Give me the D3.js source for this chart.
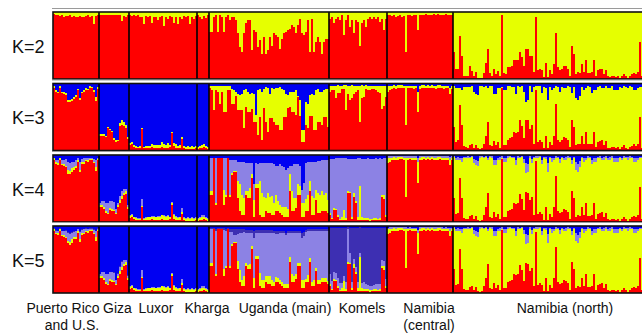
<!DOCTYPE html>
<html>
<head>
<meta charset="utf-8">
<script src="https://cdn.jsdelivr.net/npm/d3@7"></script>
<style>
  body { margin: 0; background: #fff; }
  svg { display: block; font-family: Arial, "Liberation Sans", sans-serif; }
</style>
</head>
<body>
<div id="chart"></div>
<script>
// populations, in plot order
const popLabels = [["Puerto Rico", "and U.S."], ["Giza"], ["Luxor"], ["Kharga"],
                   ["Uganda (main)"], ["Komels"], ["Namibia", "(central)"], ["Namibia (north)"]];
const popSizes = [23, 15, 34, 6, 60, 29, 33, 96];
const kValues = [2, 3, 4, 5];

// membership (%) per individual; yellow is whatever is left over
const k2Red = [
  97,96,95,94,95,93,94,94,95,93, 94,92,93,94,92,93,94,95,93,94, 82,94,95,
  96,96,95,96,95,96,95,95,96,95, 95,87,94,93,95,
  95,94,95,94,95,93,92,82,94,93, 94,83,93,92,88,93,94,79,92,89, 94,93,83,92,82,93,90,94,93,94, 82,93,90,94,
  95,92,90,94,91,96,
  70,70,93,95,70,95,93,70,93,95, 88,93,93,88,68,48,40,68,83,88, 88,43,73,70,48,58,38,63,38,43,
  63,50,68,65,63,45,60,68,70,73, 75,80,78,68,80,90,68,65,70,88, 40,90,40,55,63,55,38,55,60,60,
  90,93,83,90,93,88,95,65,88,95, 78,88,68,88,85,50,83,88,78,90, 93,90,93,90,93,85,90,73,90,
  95,96,94,95,92,94,95,93,94,40, 95,96,94,95,96,73,95,96,96,97, 96,95,96,97,96,97,96,95,96,97, 96,95,96,
  40,15,15,64,35,5,4,4,19,12, 4,11,2,1,2,9,24,45,9,5, 15,8,12,4,95,9,8,18,18,19,
  28,28,28,40,33,19,45,45,35,35, 10,93,13,15,13,3,24,3,13,8, 23,68,18,13,15,20,19,15,5,50,
  38,8,10,9,23,10,29,9,9,10, 29,5,13,15,15,8,14,4,3,5, 5,3,5,2,5,8,4,2,5,7, 9,7,10,55,4,6
];

const k3Red = [
  94,88,86,93,86,85,83,72,72,74, 77,80,90,75,86,88,91,90,93,93, 88,74,92,
  22,22,22,20,33,30,27,16,13,14, 36,38,37,33,17,
  8,9,5,4,3,4,32,3,3,4, 3,5,3,4,3,4,5,4,3,4, 5,26,6,4,3,4,17,3,2,2, 2,2,2,3,
  2,3,3,5,3,2,
  93,90,61,90,88,70,87,58,58,90, 90,70,70,82,60,60,60,33,65,58, 58,62,43,43,23,50,16,63,43,28,
  48,48,43,38,38,31,31,50,50,63, 65,58,58,53,80,52,12,12,38,33, 52,52,30,30,43,43,38,50,50,35,
  88,90,90,78,86,86,92,92,60,85, 75,78,85,88,90,43,78,80,92,90, 90,92,92,90,88,86,62,66,80,
  88,90,92,93,92,93,94,94,93,38, 93,94,93,92,93,58,92,93,94,93, 94,93,94,93,92,93,94,93,92,93, 93,85,92,
  35,12,15,68,38,6,5,4,8,10, 4,8,3,2,3,10,22,43,8,6, 14,8,12,4,93,8,8,16,18,20,
  28,26,28,45,36,18,45,45,32,38, 10,90,12,15,12,3,22,3,12,8, 22,70,16,13,15,20,18,15,5,45,
  35,8,10,9,22,10,28,9,9,10, 28,5,12,14,15,8,14,4,3,5, 5,3,5,2,5,8,4,2,5,7, 9,7,10,50,4,6
];
const k3Blue = [
  4,10,12,4,12,13,14,24,25,23, 20,17,8,22,12,10,6,8,4,5, 9,20,5,
  76,75,76,78,65,68,71,82,85,84, 59,55,57,62,80,
  89,88,92,93,95,94,66,95,94,93, 93,91,92,92,92,92,88,90,92,89, 92,72,89,91,94,92,80,94,95,94, 95,94,95,94,
  95,94,92,91,94,95,
  3,3,3,4,4,3,3,3,4,3, 3,8,10,12,15,17,15,10,8,12, 15,14,15,47,10,8,12,8,5,6,
  15,6,8,6,6,5,8,10,16,17, 12,13,12,10,18,25,70,70,28,30, 17,15,17,10,8,12,12,10,8,8,
  3,3,4,3,2,3,3,2,2,3, 3,2,3,3,3,3,2,3,2,4, 3,3,3,4,3,3,3,3,3,
  4,3,3,2,3,2,2,2,3,3, 3,3,3,3,3,12,3,2,2,3, 2,3,2,3,3,2,2,3,3,3, 3,6,3,
  3,7,7,7,10,5,5,5,5,3, 12,15,17,4,3,5,3,7,3,4, 15,15,7,7,5,10,10,4,3,5,
  5,15,4,5,3,12,27,25,4,12, 5,4,4,3,14,5,6,25,5,10, 7,4,5,12,5,7,7,4,5,14,
  5,22,25,18,5,10,7,4,5,14, 10,10,5,4,7,7,4,7,7,4, 10,10,10,5,7,4,5,7,4,5, 10,10,7,5,5,5
];

const k4Red = [
  93,87,85,92,85,84,82,72,72,74, 78,80,90,74,86,87,91,89,92,92, 88,76,92,
  22,23,20,14,12,18,17,16,12,22, 28,35,40,42,20,
  6,7,4,3,3,3,22,3,3,3, 3,4,3,3,3,3,4,3,3,3, 4,26,5,3,3,3,12,3,2,2, 2,2,2,3,
  2,3,3,4,3,2,
  41,41,95,26,95,95,95,26,38,95, 38,70,74,74,36,16,11,11,41,36, 36,66,8,51,51,11,8,8,16,13,
  13,11,11,16,16,13,11,8,8,8, 46,16,16,21,41,41,8,8,16,16, 46,11,11,33,13,13,16,16,16,13,
  10,4,18,18,8,3,3,3,3,43, 43,4,38,28,3,3,3,3,3,3, 2,3,3,3,3,3,38,35,8,
  88,90,92,93,92,93,94,94,93,38, 93,94,93,92,93,58,92,93,94,93, 94,93,94,93,92,93,94,93,92,93, 93,85,92,
  36,12,14,66,36,6,5,4,9,10, 4,9,3,2,3,10,23,44,8,6, 15,8,12,4,94,8,8,17,18,19,
  28,27,28,42,35,18,45,44,33,37, 10,91,12,15,12,3,23,3,12,8, 22,69,17,13,15,20,18,15,5,47,
  36,8,10,9,22,10,28,9,9,10, 28,5,12,14,15,8,14,4,3,5, 5,3,5,2,5,8,4,2,5,7, 9,7,10,52,4,6
];
const k4Lav = [
  1,3,4,1,5,6,10,12,12,10, 8,8,3,12,5,6,3,3,2,2, 4,10,2,
  3,5,8,12,14,10,12,12,5,3, 6,8,5,3,3,
  2,2,1,1,1,1,10,1,1,1, 1,1,1,1,1,2,1,1,1,1, 1,2,2,1,1,1,6,1,1,1, 1,1,1,1,
  1,1,2,2,1,1,
  50,50,0,66,0,0,0,47,54,0, 52,20,16,16,29,34,48,53,42,42, 37,17,24,32,30,27,45,50,52,45,
  50,49,57,43,53,61,60,59,55,60, 12,37,50,50,30,30,20,30,54,49, 29,51,54,42,48,50,46,51,48,60,
  81,88,73,75,84,90,88,77,89,48, 49,87,51,63,87,42,87,88,88,89, 89,89,88,89,89,89,53,55,84,
  3,2,2,2,2,2,2,2,2,2, 3,2,3,3,3,6,2,2,2,2, 2,2,2,2,2,2,2,2,3,2, 3,4,3,
  1,4,4,3,5,2,2,3,2,1, 6,7,8,2,1,2,1,3,1,2, 7,8,3,4,2,5,5,2,1,2,
  2,7,2,2,1,6,15,12,2,6, 2,2,2,1,7,2,3,13,2,5, 3,2,2,6,2,3,4,2,2,7,
  2,11,12,9,2,5,3,2,2,7, 5,5,2,2,3,4,2,3,4,2, 5,5,5,2,3,2,2,4,2,2, 5,5,3,2,2,2
];
const k4Blue = [
  4,8,8,4,8,8,6,10,12,10, 10,8,5,10,6,5,4,5,4,4, 6,8,4,
  72,69,69,72,72,69,69,70,81,71, 61,53,51,51,74,
  89,88,92,93,94,94,66,94,93,92, 92,91,91,92,91,91,89,90,91,90, 92,70,88,91,93,92,79,93,94,93, 94,93,94,93,
  94,93,90,90,93,94,
  4,4,4,5,4,4,4,5,5,4, 7,7,8,8,10,10,11,11,12,12, 12,12,43,12,14,12,12,12,12,12,
  12,12,14,16,16,14,17,18,22,20, 17,17,14,14,14,17,52,42,12,10, 10,10,10,10,9,9,8,8,8,7,
  6,6,6,5,5,5,5,5,5,6, 6,6,6,6,5,5,6,6,6,5, 6,6,6,5,6,5,6,5,5,
  2,2,2,1,2,1,1,1,2,2, 2,2,2,2,2,5,2,1,1,2, 1,2,1,2,2,1,1,2,2,2, 2,3,2,
  2,4,3,4,5,3,3,2,3,2, 6,8,9,2,2,3,2,4,2,2, 8,7,4,3,2,5,5,2,2,3,
  3,8,2,3,2,6,12,13,2,6, 3,2,2,2,7,3,3,12,3,5, 4,2,3,6,3,4,3,2,3,7,
  3,11,13,9,3,5,4,2,3,7, 5,5,3,2,4,3,2,4,3,2, 5,5,5,3,4,2,3,3,2,3, 5,5,4,3,3,3
];

const k5Red = [
  93,88,86,92,85,84,82,74,72,75, 80,80,90,76,86,88,91,90,92,92, 88,78,92,
  22,23,20,14,12,18,17,16,12,22, 28,35,40,42,20,
  6,7,4,3,3,3,22,3,3,3, 3,4,3,3,3,3,4,3,3,3, 4,26,5,3,3,3,12,3,2,2, 2,2,2,3,
  2,3,3,4,3,2,
  41,41,95,26,95,95,95,26,38,95, 38,70,74,74,36,16,11,11,41,36, 36,66,8,51,51,11,8,8,16,13,
  13,11,11,16,16,13,11,8,8,8, 46,16,16,21,41,41,8,8,16,16, 46,11,11,33,13,13,16,16,16,13,
  10,4,18,18,8,3,3,3,3,43, 43,4,38,28,3,3,3,3,3,3, 2,3,3,3,3,3,38,35,8,
  88,90,92,93,92,93,94,94,93,38, 93,94,93,92,93,58,92,93,94,93, 94,93,94,93,92,93,94,93,92,93, 93,85,92,
  36,12,14,66,36,6,5,4,9,10, 4,9,3,2,3,10,23,44,8,6, 15,8,12,4,94,8,8,17,18,19,
  28,27,28,42,35,18,45,44,33,37, 10,91,12,15,12,3,23,3,12,8, 22,69,17,13,15,20,18,15,5,47,
  36,8,10,9,22,10,28,9,9,10, 28,5,12,14,15,8,14,4,3,5, 5,3,5,2,5,8,4,2,5,7, 9,7,10,52,4,6
];
const k5Lav = [
  1,3,3,1,5,6,9,12,12,10, 7,8,3,11,5,5,3,3,2,2, 4,8,2,
  3,5,8,12,14,10,12,12,5,3, 6,8,5,3,3,
  2,2,1,1,1,1,10,1,1,1, 1,1,1,1,1,2,1,1,1,1, 1,2,2,1,1,1,6,1,1,1, 1,1,1,1,
  1,1,2,2,1,1,
  50,50,1,64,1,1,1,58,52,1, 50,18,10,10,40,55,70,66,45,48, 45,20,60,35,35,60,70,70,65,65,
  65,70,72,64,66,70,72,75,72,75, 35,60,65,62,45,45,62,65,70,65, 40,75,72,55,72,72,70,70,70,75,
  15,12,10,10,12,10,8,8,10,50, 15,10,8,8,8,6,8,10,8,6, 6,6,6,8,8,8,8,8,10,
  2,2,2,2,2,2,2,2,2,2, 2,2,2,2,2,5,2,2,2,2, 2,2,2,2,2,2,2,2,2,2, 2,4,2,
  1,4,4,3,5,2,2,3,2,1, 6,7,8,2,1,2,1,3,1,2, 7,8,3,4,2,5,5,2,1,2,
  2,7,2,2,1,6,15,12,2,6, 2,2,2,1,7,2,3,13,2,5, 3,2,2,6,2,3,4,2,2,7,
  2,11,12,9,2,5,3,2,2,7, 5,5,2,2,3,4,2,3,4,2, 5,5,5,2,3,2,2,4,2,2, 5,5,3,2,2,2
];
const k5Dark = [
  1,1,1,1,1,1,1,1,1,1, 1,1,1,1,1,1,1,1,1,1, 1,1,1,
  1,1,1,1,1,1,1,1,1,1, 1,1,1,1,1,
  0,0,0,0,0,0,0,0,0,0, 0,0,0,0,0,0,0,0,0,0, 0,0,0,0,0,0,0,0,0,0, 0,0,0,0,
  0,0,0,0,0,0,
  2,2,1,3,1,1,1,3,3,1, 5,5,10,10,8,6,5,4,4,4, 5,4,10,4,4,4,4,4,4,4,
  4,4,4,4,4,3,3,3,4,3, 3,3,3,3,3,3,8,6,3,3, 3,3,3,3,3,3,3,3,3,3,
  69,79,66,67,74,82,82,71,81,2, 37,80,46,58,81,39,82,81,83,85, 86,86,85,83,84,83,48,49,76,
  0,0,0,0,0,0,0,0,0,0, 0,0,0,0,0,0,0,0,0,0, 0,0,0,0,0,0,0,0,0,0, 0,0,0,
  0,0,0,0,0,0,0,0,0,0, 0,0,0,0,0,0,0,0,0,0, 0,0,0,0,0,0,0,0,0,0,
  0,0,0,0,0,0,0,0,0,0, 0,0,0,0,0,0,0,0,0,0, 0,0,0,0,0,0,0,0,0,0,
  0,0,0,0,0,0,0,0,0,0, 0,0,0,0,0,0,0,0,0,0, 0,0,0,0,0,0,0,0,0,0, 0,0,0,0,0,0
];
const k5Blue = [
  3,6,7,3,7,7,6,9,11,9, 8,7,4,8,5,4,3,4,3,3, 5,7,3,
  71,68,68,71,71,68,68,69,80,70, 60,52,50,50,73,
  89,88,92,93,94,94,66,94,93,92, 92,91,91,92,91,91,89,90,91,90, 92,70,88,91,93,92,79,93,94,93, 94,93,94,93,
  94,93,90,90,93,94,
  3,3,3,4,3,3,3,3,4,3, 4,4,4,4,4,5,5,5,6,6, 6,6,8,6,6,6,6,6,6,6,
  6,6,7,8,8,7,8,8,10,8, 8,8,7,7,7,7,10,9,6,5, 5,5,5,5,5,5,4,4,4,4,
  3,3,3,3,3,3,3,3,3,2, 3,3,3,3,3,2,3,3,3,3, 3,3,3,3,3,3,3,3,3,
  3,2,2,1,2,1,1,1,2,2, 3,2,3,3,3,6,2,1,1,2, 1,2,1,2,2,1,1,2,3,2, 3,3,3,
  2,4,3,4,5,3,3,2,3,2, 6,8,9,2,2,3,2,4,2,2, 8,7,4,3,2,5,5,2,2,3,
  3,8,2,3,2,6,12,13,2,6, 3,2,2,2,7,3,3,12,3,5, 4,2,3,6,3,4,3,2,3,7,
  3,11,13,9,3,5,4,2,3,7, 5,5,3,2,4,3,2,4,3,2, 5,5,5,3,4,2,3,3,2,3, 5,5,4,3,3,3
];

// ---- layout ----
const WIDTH = 642, HEIGHT = 333;
const LEFT = 53, BAR_W = 2;
const PANEL_TOP = [12, 83.5, 155, 226];
const PANEL_H = 67;
const LABEL_X = [[63, 72], [117.5], [156], [207], [285], [362], [429, 429], [565]];

const COLORS = { red: "#ff0000", yellow: "#e6ff00", lavender: "#8c82e4", dark: "#3d2fb2", blue: "#0000f2" };
const STACK_ORDER = ["red", "yellow", "lavender", "dark", "blue"];

const qByK = {
  2: { red: k2Red },
  3: { red: k3Red, blue: k3Blue },
  4: { red: k4Red, lavender: k4Lav, blue: k4Blue },
  5: { red: k5Red, lavender: k5Lav, dark: k5Dark, blue: k5Blue }
};

const N = d3.sum(popSizes);

const svg = d3.select("#chart").append("svg")
  .attr("width", WIDTH)
  .attr("height", HEIGHT);

const x = d3.scaleBand()
  .domain(d3.range(N))
  .range([LEFT, LEFT + N * BAR_W])
  .padding(0);

const bounds = d3.cumsum(popSizes).slice(0, -1);

kValues.forEach((k, pi) => {
  const top = PANEL_TOP[pi];
  const y = d3.scaleLinear().domain([0, 100]).range([top + PANEL_H, top]);
  const q = qByK[k];

  const rows = d3.range(N).map(i => {
    const r = { i };
    let s = 0;
    STACK_ORDER.forEach(key => {
      if (key === "yellow") return;
      r[key] = q[key] ? q[key][i] : 0;
      s += r[key];
    });
    r.yellow = Math.max(0, 100 - s);
    const tot = s + r.yellow;
    STACK_ORDER.forEach(key => { r[key] = r[key] * 100 / tot; });
    return r;
  });

  const series = d3.stack().keys(STACK_ORDER)(rows);

  const g = svg.append("g");

  // thin grey rule above each panel
  g.append("line")
    .attr("x1", LEFT - 1).attr("x2", WIDTH)
    .attr("y1", top - 3.5).attr("y2", top - 3.5)
    .attr("stroke", "#9a9a9a").attr("stroke-width", 1.2);

  g.selectAll("g.layer")
    .data(series)
    .join("g")
    .attr("class", "layer")
    .attr("fill", s => COLORS[s.key])
    .selectAll("rect")
    .data(s => s.filter(d => d[1] - d[0] > 0))
    .join("rect")
    .attr("x", d => x(d.data.i))
    .attr("y", d => y(d[1]))
    .attr("width", x.bandwidth())
    .attr("height", d => y(d[0]) - y(d[1]))
    .attr("shape-rendering", "crispEdges");

  // population separators
  g.selectAll("line.sep")
    .data(bounds)
    .join("line")
    .attr("class", "sep")
    .attr("x1", b => x(b)).attr("x2", b => x(b))
    .attr("y1", top).attr("y2", top + PANEL_H)
    .attr("stroke", "#000").attr("stroke-width", 1.6);

  // frame
  g.append("rect")
    .attr("x", LEFT).attr("y", top)
    .attr("width", N * BAR_W + 4).attr("height", PANEL_H)
    .attr("fill", "none")
    .attr("stroke", "#111").attr("stroke-width", 1.6);

  svg.append("text")
    .attr("x", 12)
    .attr("y", top + PANEL_H / 2 + 7)
    .attr("font-size", 18)
    .attr("fill", "#111")
    .text(`K=${k}`);
});

// population names under the plot
popLabels.forEach((lines, p) => {
  lines.forEach((t, li) => {
    svg.append("text")
      .attr("x", LABEL_X[p][li])
      .attr("y", 313 + li * 17)
      .attr("text-anchor", "middle")
      .attr("font-size", 14)
      .attr("fill", "#111")
      .text(t);
  });
});
</script>
</body>
</html>
